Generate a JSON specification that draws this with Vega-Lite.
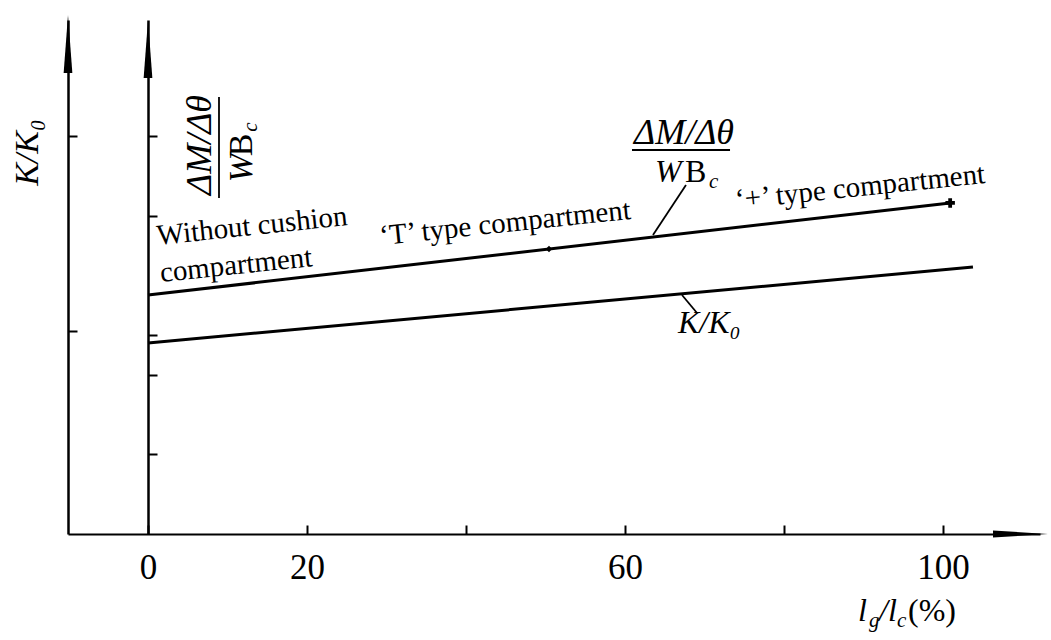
{
  "$schema": "https://vega.github.io/schema/vega-lite/v6.json",
  "width": 972,
  "height": 514,
  "autosize": {"type": "none"},
  "padding": {"left": 68, "top": 20, "right": 11, "bottom": 106},
  "background": "white",
  "config": {"view": {"stroke": null}, "font": "Liberation Serif"},
  "datasets": {
    "lines": [
      {"s": "M", "x": 0, "y": 3.006},
      {"s": "M", "x": 100.9, "y": 4.164},
      {"s": "K", "x": 0, "y": 2.403},
      {"s": "K", "x": 103.77, "y": 3.358}
    ],
    "rules": [
      {"x": 67.67, "y": 4.39, "x2": 63.52, "y2": 3.761},
      {"x": 67.17, "y": 3.006, "x2": 69.06, "y2": 2.78},
      {"x": 60.88, "y": 4.83, "x2": 73.21, "y2": 4.83},
      {"x": 8.93, "y": 5.497, "x2": 8.93, "y2": 4.226}
    ],
    "vArrows": [{"x": -10.063, "y": 6.528}, {"x": 0, "y": 6.465}],
    "hArrow": [{"x": 113.21, "y": 0}],
    "markT": [{"x": 50.44, "y": 3.585}],
    "markPlus": [{"x": 100.9, "y": 4.164}],
    "annot": [
      {"t": "Without cushion", "x": 13.21, "y": 3.761},
      {"t": "compartment", "x": 11.19, "y": 3.27},
      {"t": "‘T’ type compartment", "x": 45.03, "y": 3.799},
      {"t": "‘+’ type compartment", "x": 89.69, "y": 4.252}
    ],
    "numH": [{"t": "ΔM/Δθ", "x": 67.42, "y": 4.906}],
    "numV": [{"t": "ΔM/Δθ", "x": 7.92, "y": 4.893}],
    "itH": [
      {"t": "W", "x": 63.77, "y": 4.428},
      {"t": "K/K₀", "x": 66.67, "y": 2.528},
      {"t": "l", "x": 89.31, "y": -1.094},
      {"t": "/l", "x": 91.95, "y": -1.094}
    ],
    "upH": [
      {"t": "B", "x": 67.55, "y": 4.428},
      {"t": "(%)", "x": 95.6, "y": -1.094}
    ],
    "subIt": [
      {"t": "c", "x": 70.57, "y": 4.352},
      {"t": "g", "x": 90.69, "y": -1.17},
      {"t": "c", "x": 94.21, "y": -1.17}
    ],
    "itV": [{"t": "W", "x": 13.08, "y": 4.604}],
    "upV": [{"t": "B", "x": 13.08, "y": 4.893}],
    "subItV": [{"t": "c", "x": 13.71, "y": 5.119}]
  },
  "encoding": {
    "x": {
      "field": "x", "type": "quantitative",
      "scale": {"domain": [-10.063, 112.201], "nice": false, "zero": false},
      "axis": {
        "values": [0, 20, 40, 60, 80, 100],
        "labelExpr": "datum.value == 40 || datum.value == 80 ? '' : datum.label",
        "title": null, "grid": false,
        "domainColor": "black", "domainWidth": 2,
        "tickColor": "black", "tickWidth": 2, "tickSize": -9,
        "labelFont": "Liberation Serif", "labelFontSize": 35, "labelColor": "black",
        "labelPadding": 25, "labelFlush": false, "labelOverlap": false
      }
    },
    "y": {
      "field": "y", "type": "quantitative",
      "scale": {"domain": [0, 6.4654], "nice": false, "zero": false},
      "axis": {
        "values": [2.55, 5], "labels": false, "grid": false,
        "domainColor": "black", "domainWidth": 2.5,
        "tickColor": "black", "tickWidth": 2, "tickSize": -9,
        "title": "K/K₀", "titleFont": "Liberation Serif", "titleFontSize": 34,
        "titleFontStyle": "italic", "titleFontWeight": "normal", "titleColor": "black",
        "titleAngle": 270, "titleX": -41, "titleY": 132,
        "titleAlign": "center", "titleBaseline": "middle"
      }
    }
  },
  "layer": [
    {
      "layer": [
        {
          "data": {"name": "lines"},
          "mark": {"type": "line", "color": "black", "strokeWidth": 3},
          "encoding": {"detail": {"field": "s"}}
        },
        {
          "data": {"name": "rules"},
          "mark": {"type": "rule", "color": "black", "strokeWidth": 1.8},
          "encoding": {"x2": {"field": "x2"}, "y2": {"field": "y2"}}
        },
        {
          "data": {"name": "hArrow"},
          "mark": {"type": "point", "shape": "M0,0L-2,-0.13L-2,0.13Z", "size": 3025, "filled": true, "opacity": 1, "color": "black"}
        },
        {
          "data": {"name": "markT"},
          "mark": {"type": "point", "shape": "diamond", "size": 40, "filled": true, "opacity": 1, "color": "black"}
        },
        {
          "data": {"name": "markPlus"},
          "mark": {"type": "point", "shape": "cross", "size": 90, "filled": true, "opacity": 1, "color": "black"}
        },
        {
          "data": {"name": "annot"},
          "mark": {"type": "text", "font": "Liberation Serif", "fontSize": 29, "angle": 354, "align": "center", "baseline": "alphabetic", "color": "black"},
          "encoding": {"text": {"field": "t"}}
        },
        {
          "data": {"name": "numH"},
          "mark": {"type": "text", "font": "Liberation Serif", "fontSize": 36, "fontStyle": "italic", "align": "center", "baseline": "alphabetic", "color": "black"},
          "encoding": {"text": {"field": "t"}}
        },
        {
          "data": {"name": "numV"},
          "mark": {"type": "text", "font": "Liberation Serif", "fontSize": 36, "fontStyle": "italic", "angle": 270, "align": "center", "baseline": "alphabetic", "color": "black"},
          "encoding": {"text": {"field": "t"}}
        },
        {
          "data": {"name": "itH"},
          "mark": {"type": "text", "font": "Liberation Serif", "fontSize": 32, "fontStyle": "italic", "align": "left", "baseline": "alphabetic", "color": "black"},
          "encoding": {"text": {"field": "t"}}
        },
        {
          "data": {"name": "upH"},
          "mark": {"type": "text", "font": "Liberation Serif", "fontSize": 32, "align": "left", "baseline": "alphabetic", "color": "black"},
          "encoding": {"text": {"field": "t"}}
        },
        {
          "data": {"name": "subIt"},
          "mark": {"type": "text", "font": "Liberation Serif", "fontSize": 21, "fontStyle": "italic", "align": "left", "baseline": "alphabetic", "color": "black"},
          "encoding": {"text": {"field": "t"}}
        },
        {
          "data": {"name": "itV"},
          "mark": {"type": "text", "font": "Liberation Serif", "fontSize": 34, "fontStyle": "italic", "angle": 270, "align": "center", "baseline": "alphabetic", "color": "black"},
          "encoding": {"text": {"field": "t"}}
        },
        {
          "data": {"name": "upV"},
          "mark": {"type": "text", "font": "Liberation Serif", "fontSize": 34, "angle": 270, "align": "center", "baseline": "alphabetic", "color": "black"},
          "encoding": {"text": {"field": "t"}}
        },
        {
          "data": {"name": "subItV"},
          "mark": {"type": "text", "font": "Liberation Serif", "fontSize": 21, "fontStyle": "italic", "angle": 270, "align": "center", "baseline": "alphabetic", "color": "black"},
          "encoding": {"text": {"field": "t"}}
        }
      ]
    },
    {
      "data": {"name": "vArrows"},
      "mark": {"type": "point", "shape": "M0,0L0.15,2L-0.15,2Z", "size": 3364, "filled": true, "opacity": 1, "color": "black"},
      "encoding": {
        "y": {
          "field": "y", "type": "quantitative",
          "scale": {"domain": [0, 6.4654], "nice": false, "zero": false},
          "axis": {
            "orient": "right", "offset": -892,
            "values": [1, 2, 2.5, 4, 5], "labels": false, "grid": false,
            "domainColor": "black", "domainWidth": 2.5,
            "tickColor": "black", "tickWidth": 2, "tickSize": 9,
            "title": null
          }
        }
      }
    }
  ],
  "resolve": {"axis": {"y": "independent"}}
}
